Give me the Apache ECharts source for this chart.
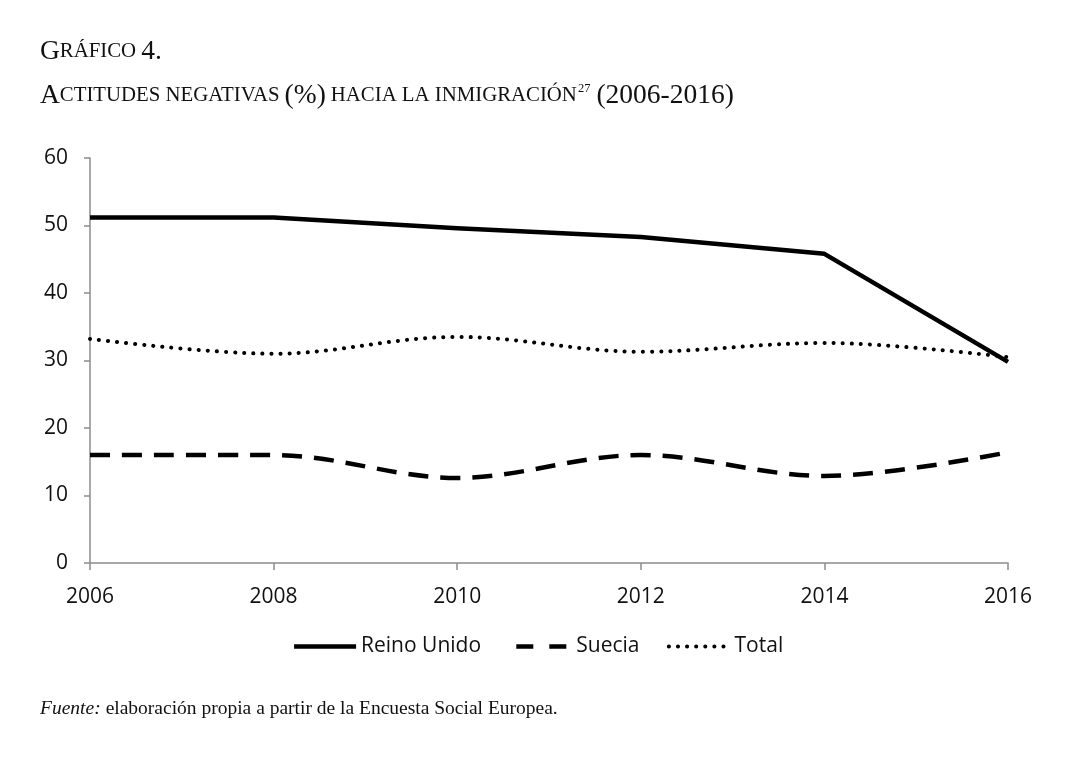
<!DOCTYPE html>
<html><head><meta charset="utf-8">
<script src="https://cdn.jsdelivr.net/npm/echarts@6/dist/echarts.min.js"></script>
<style>html,body{margin:0;padding:0;background:#fff}#c{width:1075px;height:759px}</style>
</head><body><div id="c"></div>
<script>
const years = ['2006','2008','2010','2012','2014','2016'];
const reinoUnido = [51.2, 51.2, 49.6, 48.3, 45.8, 29.8];
const suecia = [16.0, 16.0, 12.6, 16.0, 12.9, 16.4];
const total = [33.2, 31.0, 33.5, 31.3, 32.6, 30.5];
const yTicks = [0, 10, 20, 30, 40, 50, 60];

const serif = 'Liberation Serif';
const sans = 'Open Sans';
const B = {fontFamily: serif, fontSize: 27.5, fontWeight: 'normal', color: '#111'};
const S = {fontFamily: serif, fontSize: 20.8, fontWeight: 'normal', color: '#111'};
const chart = echarts.init(document.getElementById('c'), null, {renderer: 'canvas'});
chart.setOption({
  backgroundColor: '#fff',
  animation: false,
  title: [
    {
      left: 35, top: 33,
      text: '{b|G}{s|RÁFICO} {b|4.}',
      textStyle: {fontWeight: 'normal', rich: {b: B, s: S}}
    },
    {
      left: 35, top: 77,
      text: '{b|A}{s|CTITUDES NEGATIVAS} {b|(%)} {s|HACIA LA INMIGRACIÓN}{sup|27} {b|(2006-2016)}',
      textStyle: {fontWeight: 'normal', rich: {
        b: B, s: S,
        sup: {fontFamily: serif, fontSize: 12.5, fontWeight: 'normal', color: '#111', verticalAlign: 'top', padding: [0, 1, 12, 1]}
      }}
    },
    {
      left: 35, top: 694,
      text: '{i|Fuente:} {r|elaboración propia a partir de la Encuesta Social Europea.}',
      textStyle: {fontWeight: 'normal', rich: {
        i: {fontFamily: serif, fontStyle: 'italic', fontWeight: 'normal', fontSize: 19.5, color: '#111'},
        r: {fontFamily: serif, fontWeight: 'normal', fontSize: 19.5, color: '#111'}
      }}
    }
  ],
  grid: {left: 90, right: 67, top: 158, bottom: 196, containLabel: false},
  legend: {
    bottom: 97, left: 'center',
    itemWidth: 62, itemHeight: 14, itemGap: 26,
    itemStyle: {opacity: 0},
    textStyle: {fontFamily: sans, fontSize: 21, color: '#111'},
    data: [
      {name: 'Reino Unido', lineStyle: {width: 4.5}},
      {name: 'Suecia', lineStyle: {width: 4.5, type: [17, 16], dashOffset: 26}},
      {name: 'Total', lineStyle: {width: 4, type: [0.1, 9], cap: 'round'}}
    ]
  },
  xAxis: {
    type: 'category', data: years, boundaryGap: false,
    axisLine: {lineStyle: {color: '#8c8c8c', width: 1.5}},
    axisTick: {show: true, alignWithLabel: true, length: 7, lineStyle: {color: '#8c8c8c', width: 1.5}},
    axisLabel: {fontFamily: sans, fontSize: 21, color: '#111', margin: 24}
  },
  yAxis: {
    type: 'value', min: 0, max: 60, interval: 10,
    splitLine: {show: false},
    axisLine: {show: true, lineStyle: {color: '#8c8c8c', width: 1.5}},
    axisTick: {show: true, length: 6, lineStyle: {color: '#8c8c8c', width: 1.5}},
    axisLabel: {fontFamily: sans, fontSize: 21, color: '#111', margin: 22,
      formatter: v => yTicks.includes(v) ? String(v) : ''}
  },
  series: [
    {name: 'Reino Unido', type: 'line', data: reinoUnido, showSymbol: false, symbol: 'none',
      itemStyle: {color: '#000'},
      lineStyle: {color: '#000', width: 4.5, join: 'round'}},
    {name: 'Suecia', type: 'line', data: suecia, showSymbol: false, symbol: 'none', smooth: 0.35,
      itemStyle: {color: '#000'},
      lineStyle: {color: '#000', width: 4.5, type: [20, 12]}},
    {name: 'Total', type: 'line', data: total, showSymbol: false, symbol: 'none', smooth: 0.35,
      itemStyle: {color: '#000'},
      lineStyle: {color: '#000', width: 4, type: [0.1, 9], cap: 'round'}}
  ]
});
</script></body></html>
